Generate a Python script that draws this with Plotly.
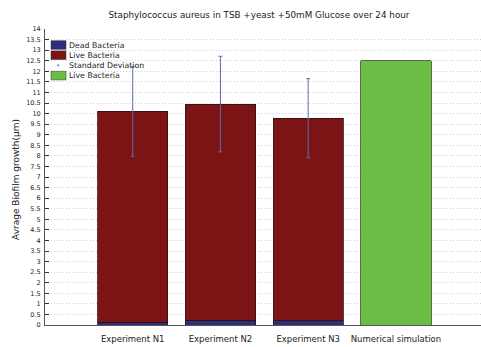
import plotly.graph_objects as go

# Biofilm growth data (µm)
categories = ["Experiment N1", "Experiment N2", "Experiment N3", "Numerical simulation"]
dead_bacteria = [0.13, 0.22, 0.20]
live_bacteria = [9.97, 10.23, 9.58]
std_dev = [2.12, 2.26, 1.87]
simulated_live = [12.5]
y_ticks = [i * 0.5 for i in range(29)]

W, H = 481, 347
L, R, T, B = 45, 0, 29, 22
PW, PH = W - L - R, H - T - B

def px(x):
    return (x - L) / PW

def py(y):
    return (H - B - y) / PH

pos = [1, 2, 3, 4]
exp_pos = pos[:3]
totals = [d + l for d, l in zip(dead_bacteria, live_bacteria)]

fig = go.Figure()
outline = dict(color="#2a1010", width=0.8)
fig.add_trace(go.Bar(x=exp_pos, y=dead_bacteria, width=0.8, marker=dict(color="#2c2f7c", line=outline),
                     name="Dead Bacteria"))
fig.add_trace(go.Bar(x=exp_pos, y=live_bacteria, width=0.8, marker=dict(color="#7c1416", line=outline),
                     name="Live Bacteria"))
fig.add_trace(go.Bar(x=[pos[3]], y=simulated_live, width=0.8,
                     marker=dict(color="#6cbd45", line=dict(color="#2f4a22", width=0.8)),
                     name="Live Bacteria"))
fig.add_trace(go.Scatter(x=exp_pos, y=totals, mode="markers", marker=dict(size=1, color="#5a6ea8"),
                         error_y=dict(type="data", array=std_dev, visible=True, color="#5a6ea8",
                                      thickness=1, width=2),
                         name="Standard Deviation"))

tick_text = [("%g" % v) for v in y_ticks]

fig.update_layout(
    width=W, height=H,
    margin=dict(l=L, r=R, t=T, b=B),
    barmode="stack",
    showlegend=False,
    paper_bgcolor="white",
    plot_bgcolor="white",
    font=dict(family="DejaVu Sans", color="#222222"),
    title=dict(text="Staphylococcus aureus in TSB +yeast +50mM Glucose over 24 hour",
               x=259 / W, xanchor="center", y=1 - 15 / H, yanchor="middle",
               font=dict(size=8.8, color="#222222")),
    xaxis=dict(range=[0, 4.97], tickvals=pos, ticktext=categories, showgrid=False,
               zeroline=False, showline=True, linecolor="#555555", linewidth=1,
               ticks="", tickfont=dict(size=8.5), ticklabelstandoff=6, fixedrange=True),
    yaxis=dict(range=[0, 14], tickvals=y_ticks, ticktext=tick_text, showgrid=True,
               gridcolor="#cfcfcf", griddash="1px,2px", gridwidth=1, zeroline=False,
               showline=True, linecolor="#555555", linewidth=1,
               ticks="inside", ticklen=4, tickcolor="#333333",
               tickfont=dict(size=6.5), ticklabelstandoff=2, fixedrange=True),
)

# Y-axis title
fig.add_annotation(text="Avrage Biofilm growth(\u03bcm)", xref="paper", yref="paper",
                   x=px(16), y=py(180), textangle=-90, showarrow=False,
                   font=dict(size=9, color="#222222"), xanchor="center", yanchor="middle")

# Legend drawn inside the plot area
legend_rows = [
    ("Dead Bacteria", "#2c2f7c", "box"),
    ("Live Bacteria", "#7c1416", "box"),
    ("Standard Deviation", "#5a6ea8", "dot"),
    ("Live Bacteria", "#6cbd45", "box"),
]
row_y = [45, 55.2, 65.4, 75.6]
for (label, color, kind), yc in zip(legend_rows, row_y):
    if kind == "box":
        fig.add_shape(type="rect", xref="paper", yref="paper",
                      x0=px(51), x1=px(66), y0=py(yc + 4.3), y1=py(yc - 4.3),
                      fillcolor=color, line=dict(color="#333333", width=0.5))
    else:
        fig.add_shape(type="rect", xref="paper", yref="paper",
                      x0=px(57.5), x1=px(59), y0=py(yc + 0.8), y1=py(yc - 0.8),
                      fillcolor=color, line=dict(width=0))
    fig.add_annotation(text=label, xref="paper", yref="paper", x=px(66.5), y=py(yc),
                       showarrow=False, xanchor="left", yanchor="middle",
                       font=dict(size=7.8, color="#222222"))

fig.write_html("out.html")
